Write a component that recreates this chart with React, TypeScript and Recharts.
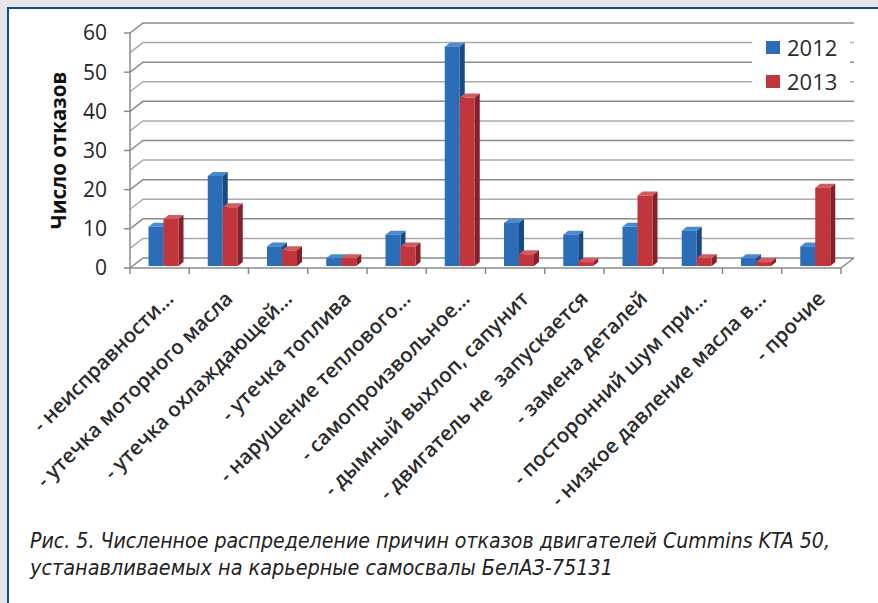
import React from "react";
import { BarChart, Bar, XAxis, YAxis, CartesianGrid, Legend } from "recharts";

const categories = [
  "- неисправности...",
  "- утечка моторного масла",
  "- утечка охлаждающей...",
  "- утечка топлива",
  "- нарушение теплового...",
  "- самопроизвольное...",
  "- дымный выхлоп, сапунит",
  "- двигатель не  запускается",
  "- замена деталей",
  "- посторонний шум при...",
  "- низкое давление масла в...",
  "- прочие",
];
const failures2012 = [10, 23, 5, 2, 8, 56, 11, 8, 10, 9, 2, 5];
const failures2013 = [12, 15, 4, 2, 5, 43, 3, 1, 18, 2, 1, 20];
// axis ticks every 5 (grid), labels only on multiples of 10
const gridTicks = [0, 5, 10, 15, 20, 25, 30, 35, 40, 45, 50, 55, 60];

const data = categories.map((name, i) => ({
  name,
  y2012: failures2012[i],
  y2013: failures2013[i],
}));

const W = 878;
const H = 603;
const PLOT_LEFT = 130;
const PLOT_RIGHT = 841;
const STEP = (PLOT_RIGHT - PLOT_LEFT) / categories.length;
const WALL_DX = 13;
const WALL_DY = -10;
const Y_TICK_SIZE = 6;
const Y_TICK_MARGIN = 17;

const BLUE = { front: "#2c6db7", top: "#4a8ad0", side: "#1b4a82" };
const RED = { front: "#c0363c", top: "#d45a5c", side: "#86202a" };

function Box3D(props: any) {
  const { x, y, width, height, colors } = props;
  if (!height || height <= 0) return null;
  const fx = x + 3.5;
  const fy = y - 2;
  const dx = 5;
  const dy = -4;
  return (
    <g>
      <polygon
        points={`${fx},${fy} ${fx + dx},${fy + dy} ${fx + width + dx},${fy + dy} ${fx + width},${fy}`}
        fill={colors.top}
      />
      <polygon
        points={`${fx + width},${fy} ${fx + width + dx},${fy + dy} ${fx + width + dx},${fy + height + dy} ${fx + width},${fy + height}`}
        fill={colors.side}
      />
      <rect x={fx} y={fy} width={width} height={height} fill={colors.front} />
    </g>
  );
}

function GridLine(props: any) {
  const { x1, y1, x2, index } = props;
  const major = gridTicks[index] % 10 === 0;
  let d = `M${x1},${y1} L${x1 + WALL_DX},${y1 + WALL_DY} L${x2 + WALL_DX},${y1 + WALL_DY}`;
  if (gridTicks[index] === 0) d += ` M${x2},${y1} L${x2 + WALL_DX},${y1 + WALL_DY}`;
  return (
    <path
      d={d}
      fill="none"
      stroke={major ? "#8a8a8a" : "#ababab"}
      strokeWidth={1.5}
    />
  );
}

function ValueTick(props: any) {
  const { x, y, payload } = props;
  if (payload.value % 10 !== 0) return null;
  const axisX = x + Y_TICK_SIZE + Y_TICK_MARGIN;
  return (
    <g>
      <line x1={axisX - Y_TICK_SIZE} y1={y} x2={axisX} y2={y} stroke="#8a8a8a" strokeWidth={1.5} />
      <text
        x={x}
        y={y}
        dy="0.355em"
        textAnchor="end"
        fontFamily="'Open Sans', sans-serif"
        fontSize={21}
        fill="#262626"
      >
        {payload.value}
      </text>
    </g>
  );
}

function CategoryTick(props: any) {
  const { x, y, payload, index } = props;
  const axisY = y - 8;
  const left = x - STEP / 2;
  return (
    <g>
      <line x1={left} y1={axisY} x2={left} y2={axisY + 6} stroke="#8a8a8a" strokeWidth={1.5} />
      {index === categories.length - 1 && (
        <line x1={x + STEP / 2} y1={axisY} x2={x + STEP / 2} y2={axisY + 6} stroke="#8a8a8a" strokeWidth={1.5} />
      )}
      <text
        x={0}
        y={0}
        transform={`translate(${x + 15},${y + 24}) rotate(-45)`}
        textAnchor="end"
        fontFamily="'Open Sans', sans-serif"
        fontWeight={600}
        fontSize={20.5}
        fill="#2b2b2b"
        style={{ whiteSpace: "pre" }}
      >
        {payload.value}
      </text>
    </g>
  );
}

function LegendBox() {
  const rows = [
    { label: "2012", color: BLUE.front },
    { label: "2013", color: RED.front },
  ];
  return (
    <div style={{ background: "#fff", width: 98, paddingLeft: 14, boxSizing: "border-box" }}>
      {rows.map((r) => (
        <div key={r.label} style={{ display: "flex", alignItems: "center", height: 34 }}>
          <span style={{ width: 14, height: 13, background: r.color, marginRight: 7 }} />
          <span style={{ fontFamily: "'Open Sans', sans-serif", fontSize: 22, color: "#2b2b2b", lineHeight: "34px" }}>
            {r.label}
          </span>
        </div>
      ))}
    </div>
  );
}

function AxisTitle(props: any) {
  const vb = props.viewBox;
  const cx = vb.x - 12;
  const cy = vb.y + vb.height / 2;
  return (
    <text
      x={cx}
      y={cy}
      transform={`rotate(-90, ${cx}, ${cy})`}
      textAnchor="middle"
      dominantBaseline="central"
      fontFamily="'Open Sans', sans-serif"
      fontWeight={700}
      fontSize={20.5}
      fill="#111"
    >
      Число отказов
    </text>
  );
}

export default function App() {
  return (
    <div style={{ position: "absolute", left: 0, top: 0, width: W, height: H, background: "#e5e6e8", overflow: "hidden" }}>
      <div
        style={{
          position: "absolute",
          left: 7,
          top: 7,
          right: 0,
          bottom: 0,
          background: "#fff",
          borderTop: "2px solid #154a8d",
          borderLeft: "2px solid #154a8d",
        }}
      />
      <div style={{ position: "absolute", left: 0, top: 0 }}>
        <BarChart
          width={W}
          height={H}
          data={data}
          margin={{ top: 33, right: W - PLOT_RIGHT, bottom: 35, left: PLOT_LEFT - 60 }}
          barSize={15}
          barGap={0}
        >
          <CartesianGrid
            vertical={false}
            horizontal={(p: any) => <GridLine key={p.key} {...p} />}
          />
          <XAxis
            dataKey="name"
            interval={0}
            height={300}
            tickLine={false}
            tickSize={6}
            tickMargin={2}
            axisLine={{ stroke: "#8a8a8a", strokeWidth: 1.5 }}
            tick={<CategoryTick />}
          />
          <YAxis
            width={60}
            domain={[0, 60]}
            ticks={gridTicks}
            interval={0}
            tickSize={Y_TICK_SIZE}
            tickMargin={Y_TICK_MARGIN}
            tickLine={false}
            axisLine={{ stroke: "#8a8a8a", strokeWidth: 1.5 }}
            tick={<ValueTick />}
            label={{ content: <AxisTitle /> }}
          />
          <Legend
            layout="horizontal"
            verticalAlign="middle"
            align="center"
            wrapperStyle={{ top: 30, left: 752, width: 98 }}
            content={<LegendBox />}
          />
          <Bar dataKey="y2012" name="2012" fill={BLUE.front} isAnimationActive={false} shape={(p: any) => <Box3D {...p} colors={BLUE} />} />
          <Bar dataKey="y2013" name="2013" fill={RED.front} isAnimationActive={false} shape={(p: any) => <Box3D {...p} colors={RED} />} />
        </BarChart>
      </div>
      <svg style={{ position: "absolute", left: 0, top: 0 }} width={W} height={H} pointerEvents="none">
        <g fontFamily="'Liberation Sans Narrow', 'DejaVu Sans Condensed', sans-serif" fontStyle="italic" fontSize={21} fill="#222">
          <text x={30} y={548} textLength={800} lengthAdjust="spacingAndGlyphs">
            Рис. 5. Численное распределение причин отказов двигателей Cummins KTA 50,
          </text>
          <text x={30} y={575} textLength={583} lengthAdjust="spacingAndGlyphs">
            устанавливаемых на карьерные самосвалы БелАЗ-75131
          </text>
        </g>
      </svg>
    </div>
  );
}
